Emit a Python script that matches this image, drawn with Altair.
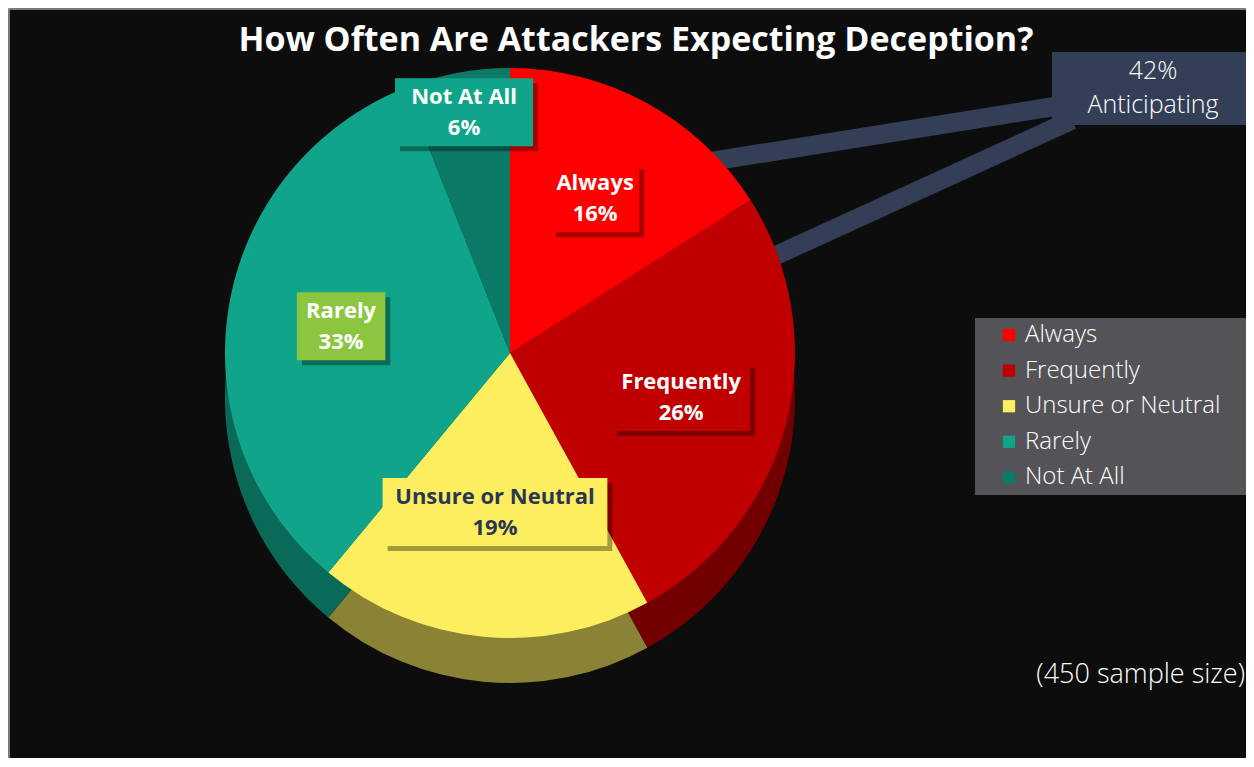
import math
import altair as alt
import pandas as pd

# ---------------- data ----------------
categories = ["Always", "Frequently", "Unsure or Neutral", "Rarely", "Not At All"]
percents = [16, 26, 19, 33, 6]
title_text = "How Often Are Attackers Expecting Deception?"
callout_lines = ["42%", "Anticipating"]
note_text = "(450 sample size)"

# ---------------- styles ----------------
colors = ["#ff0000", "#c00000", "#fdee5f", "#10a58a", "#0b7a66"]
side_colors = ["#9e0000", "#720000", "#8a8234", "#0a6a58", "#064c40"]
box_colors = ["#ff0000", "#c00000", "#fdee5f", "#8cc63f", "#10a58a"]
text_colors = ["#ffffff", "#ffffff", "#2b3752", "#ffffff", "#ffffff"]
label_r = [0.62, 0.62, 0.56, 0.60, 0.86]
FONT = "Open Sans"

W, H = 1238, 750
CX, CY = 502, 345
R = 285
DEPTH = 45
NAVY = "#333f56"

pie_df = pd.DataFrame({
    "category": categories,
    "percent": percents,
    "order": list(range(len(categories))),
    "side": side_colors,
})

# label boxes placed at the mid-angle of each slice
rows = []
cum = 0
for cat, p, bc, tc, f in zip(categories, percents, box_colors, text_colors, label_r):
    mid = (cum + p / 2) / 100 * 2 * math.pi
    cum += p
    x = CX + f * R * math.sin(mid)
    y = CY - f * R * math.cos(mid)
    bw = max(len(cat), 4) * 12.4 + 14
    rows.append({"category": cat, "pct": f"{p}%", "x": x, "y": y,
                 "bx1": x - bw / 2, "bx2": x + bw / 2, "by1": y - 34, "by2": y + 34,
                 "box": bc, "tc": tc})
lab_df = pd.DataFrame(rows)

color_scale = alt.Scale(domain=categories, range=colors)


def edge(deg, extra=-10):
    a = math.radians(deg)
    return CX + (R + extra) * math.sin(a), CY - (R + extra) * math.cos(a)


ux, uy = edge(46)
lx, ly = edge(70)
conn_u = alt.Chart(pd.DataFrame({"k": ["u"]})).mark_rule(color=NAVY, strokeWidth=19).encode(
    x=alt.value(ux), y=alt.value(uy), x2=alt.value(1050), y2=alt.value(98))
conn_l = alt.Chart(pd.DataFrame({"k": ["l"]})).mark_rule(color=NAVY, strokeWidth=19).encode(
    x=alt.value(lx), y=alt.value(ly), x2=alt.value(1064), y2=alt.value(112))

side = alt.Chart(pie_df).mark_arc(outerRadius=R).encode(
    theta=alt.Theta("percent:Q", stack=True),
    order=alt.Order("order:Q"),
    fill=alt.Fill("side:N", scale=None, legend=None),
    x=alt.value(CX), y=alt.value(CY + DEPTH),
)

top = alt.Chart(pie_df).mark_arc(outerRadius=R).encode(
    theta=alt.Theta("percent:Q", stack=True),
    order=alt.Order("order:Q"),
    color=alt.Color("category:N", scale=color_scale, sort=categories,
                    legend=alt.Legend(orient="none", legendX=989, legendY=315, title=None,
                                      symbolType="square", symbolSize=150, symbolStrokeWidth=0,
                                      labelFontSize=24, labelColor="#ffffff", labelFont=FONT,
                                      labelFontWeight=300, rowPadding=11.6, labelOffset=4,
                                      padding=0, labelLimit=400)),
    x=alt.value(CX), y=alt.value(CY),
)

shadow = alt.Chart(lab_df).transform_calculate(
    sx1="datum.bx1 + 5", sx2="datum.bx2 + 5", sy1="datum.by1 + 5", sy2="datum.by2 + 5"
).mark_rect(color="#000000", opacity=0.35).encode(
    x=alt.X("sx1:Q", scale=None, axis=None), x2="sx2:Q",
    y=alt.Y("sy1:Q", scale=None, axis=None), y2="sy2:Q",
)
boxes = alt.Chart(lab_df).mark_rect().encode(
    x=alt.X("bx1:Q", scale=None, axis=None), x2="bx2:Q",
    y=alt.Y("by1:Q", scale=None, axis=None), y2="by2:Q",
    fill=alt.Fill("box:N", scale=None, legend=None),
)
name_txt = alt.Chart(lab_df).mark_text(font=FONT, fontWeight="bold", fontSize=22, baseline="middle").encode(
    x=alt.X("x:Q", scale=None, axis=None), y=alt.Y("ny:Q", scale=None, axis=None),
    text="category:N", fill=alt.Fill("tc:N", scale=None, legend=None),
).transform_calculate(ny="datum.y - 15")
pct_txt = alt.Chart(lab_df).mark_text(font=FONT, fontWeight="bold", fontSize=22, baseline="middle").encode(
    x=alt.X("x:Q", scale=None, axis=None), y=alt.Y("py:Q", scale=None, axis=None),
    text="pct:N", fill=alt.Fill("tc:N", scale=None, legend=None),
).transform_calculate(py="datum.y + 16")

legend_bg = alt.Chart(pd.DataFrame({"k": ["bg"]})).mark_rect(color="#545458").encode(
    x=alt.value(967), x2=alt.value(1238), y=alt.value(310), y2=alt.value(487))

callout_box = alt.Chart(pd.DataFrame({"k": ["cb"]})).mark_rect(color=NAVY).encode(
    x=alt.value(1044), x2=alt.value(1238), y=alt.value(44), y2=alt.value(117))
callout_df = pd.DataFrame({"line": callout_lines, "i": [0, 1]})
callout_txt = alt.Chart(callout_df).transform_calculate(yy="63 + datum.i * 34").mark_text(
    font=FONT, fontWeight=300, fontSize=25, color="#ffffff", baseline="middle").encode(
    x=alt.value(1145), y=alt.Y("yy:Q", scale=None, axis=None), text="line:N")

title = alt.Chart(pd.DataFrame({"t": [title_text]})).mark_text(
    font=FONT, fontWeight="bold", fontSize=34, color="#ffffff", baseline="middle").encode(
    x=alt.value(628), y=alt.value(33), text="t:N")

note = alt.Chart(pd.DataFrame({"t": [note_text]})).mark_text(
    font=FONT, fontWeight=300, fontSize=27, color="#ffffff", baseline="middle", align="right").encode(
    x=alt.value(1237), y=alt.value(667), text="t:N")

frame_l = alt.Chart(pd.DataFrame({"k": ["f"]})).mark_rule(color="#9aa0a8", strokeWidth=1.5).encode(
    x=alt.value(1), y=alt.value(0), y2=alt.value(H))
frame_t = alt.Chart(pd.DataFrame({"k": ["f"]})).mark_rule(color="#9aa0a8", strokeWidth=1.5).encode(
    x=alt.value(0), x2=alt.value(W), y=alt.value(1))

chart = alt.layer(
    frame_l, frame_t, conn_u, conn_l, side, top, shadow, boxes, name_txt, pct_txt,
    legend_bg, callout_box, callout_txt, title, note,
).properties(
    width=W, height=H, background="#0d0d0d", padding=0,
    autosize=alt.AutoSizeParams(type="none"),
).configure_view(stroke=None)

chart.save("out.html", embed_options={"renderer": "svg", "actions": False})
